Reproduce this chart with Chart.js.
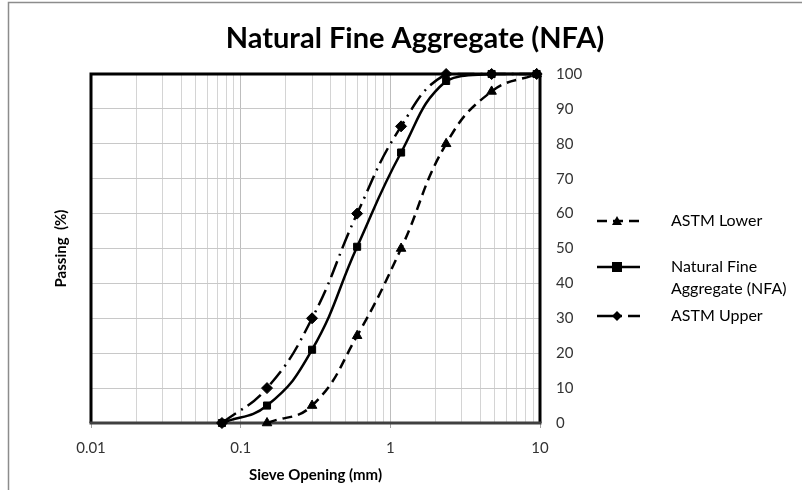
<!DOCTYPE html>
<html>
<head>
<meta charset="utf-8">
<title>Natural Fine Aggregate (NFA)</title>
<script src="https://cdn.jsdelivr.net/npm/chart.js@4.4.1/dist/chart.umd.min.js"></script>
<style>
  body { margin: 0; background: #fff; }
  #chart-container { width: 802px; height: 490px; }
</style>
</head>
<body>
<div id="chart-container">
  <canvas id="grading" width="802" height="490"></canvas>
</div>
<script>
// Sieve openings (mm) and percent passing
const sieveSizes = [0.075, 0.15, 0.3, 0.6, 1.18, 2.36, 4.75, 9.5];
const astmLower = [null, 0, 5, 25, 50, 80, 95, 100];
const nfaPassing = [0, 5, 21, 50.5, 77.5, 98, 100, 100];
const astmUpper = [0, 10, 30, 60, 85, 100, 100, 100];
const decadeLabels = [0.01, 0.1, 1, 10];

const FONT = 'Lato, "Open Sans", sans-serif';
const TITLE = 'Natural Fine Aggregate (NFA)';

function toPoints(values) {
  const pts = [];
  for (let i = 0; i < sieveSizes.length; i++) {
    if (values[i] !== null) pts.push({ x: sieveSizes[i], y: values[i] });
  }
  return pts;
}

function isDecade(value) {
  return decadeLabels.some((d) => Math.abs(value - d) < d * 1e-6);
}

const lineSeries = [
  { label: 'ASTM Lower', data: toPoints(astmLower), dash: [10, 6], point: 'triangle' },
  { label: 'Natural Fine Aggregate (NFA)', data: toPoints(nfaPassing), dash: [], point: 'rect' },
  { label: 'ASTM Upper', data: toPoints(astmUpper), dash: [17, 6, 2, 6], point: 'rectRot' },
];

// frame around the whole picture and the heavy plot border
const framePlugin = {
  id: 'frame',
  beforeDraw(chart) {
    const ctx = chart.ctx;
    ctx.save();
    ctx.fillStyle = '#fff';
    ctx.fillRect(0, 0, chart.width, chart.height);
    ctx.strokeStyle = '#8c8c8c';
    ctx.lineWidth = 1.5;
    ctx.strokeRect(8.5, 2.5, 1000, 1000);
    ctx.restore();
  },
  beforeDatasetsDraw(chart) {
    const { ctx, chartArea: a } = chart;
    ctx.save();
    ctx.lineWidth = 3;
    ctx.strokeStyle = '#000';
    ctx.beginPath();
    ctx.moveTo(a.left, a.bottom);
    ctx.lineTo(a.left, a.top);
    ctx.lineTo(a.right, a.top);
    ctx.lineTo(a.right, a.bottom);
    ctx.stroke();
    ctx.strokeStyle = '#404040';
    ctx.beginPath();
    ctx.moveTo(a.left - 1.5, a.bottom);
    ctx.lineTo(a.right + 1.5, a.bottom);
    ctx.stroke();
    ctx.restore();
  },
};

// chart title plus the y-axis title, which sits on the left while ticks are on the right
const titlesPlugin = {
  id: 'titles',
  afterDraw(chart) {
    const { ctx, chartArea: a } = chart;
    ctx.save();
    ctx.fillStyle = '#000';
    ctx.textAlign = 'center';
    ctx.textBaseline = 'middle';
    ctx.font = 'bold 29px ' + FONT;
    ctx.fillText(TITLE, 415, 39);
    ctx.translate(61, (a.top + a.bottom) / 2);
    ctx.rotate(-Math.PI / 2);
    ctx.font = 'bold 15px ' + FONT;
    ctx.fillText('Passing  (%)', 0, 0);
    ctx.restore();
  },
};

function drawMarker(ctx, style, x, y, r) {
  ctx.beginPath();
  if (style === 'rect') {
    ctx.rect(x - r, y - r, r * 2, r * 2);
  } else if (style === 'rectRot') {
    ctx.moveTo(x, y - r);
    ctx.lineTo(x + r, y);
    ctx.lineTo(x, y + r);
    ctx.lineTo(x - r, y);
    ctx.closePath();
  } else {
    ctx.moveTo(x, y - r);
    ctx.lineTo(x + r, y + r * 0.8);
    ctx.lineTo(x - r, y + r * 0.8);
    ctx.closePath();
  }
  ctx.fill();
}

// legend with line samples, drawn to the right of the axis
const sideLegendPlugin = {
  id: 'sideLegend',
  afterDraw(chart) {
    const ctx = chart.ctx;
    const rows = [
      { ds: 0, y: 221, lines: ['ASTM Lower'] },
      { ds: 1, y: 267, lines: ['Natural Fine', 'Aggregate (NFA)'] },
      { ds: 2, y: 316, lines: ['ASTM Upper'] },
    ];
    ctx.save();
    rows.forEach((row) => {
      const s = lineSeries[row.ds];
      ctx.strokeStyle = '#000';
      ctx.fillStyle = '#000';
      ctx.lineWidth = 2.5;
      ctx.setLineDash(s.dash);
      ctx.beginPath();
      ctx.moveTo(597, row.y);
      ctx.lineTo(640, row.y);
      ctx.stroke();
      ctx.setLineDash([]);
      drawMarker(ctx, s.point, 617, row.y, 5);
      ctx.font = '16px ' + FONT;
      ctx.textAlign = 'left';
      ctx.textBaseline = 'middle';
      row.lines.forEach((t, i) => ctx.fillText(t, 671, row.y + i * 22));
    });
    ctx.restore();
  },
};

const datasets = lineSeries.map((s) => ({
  label: s.label,
  data: s.data,
  borderColor: '#000',
  backgroundColor: '#000',
  borderWidth: 2.5,
  borderDash: s.dash,
  pointStyle: s.point,
  pointRadius: s.point === 'rect' ? 5 : 5.5,
  pointBorderWidth: 1,
  tension: 0.45,
  clip: false,
}));

new Chart(document.getElementById('grading').getContext('2d'), {
  type: 'line',
  data: { datasets: datasets },
  options: {
    responsive: false,
    animation: false,
    layout: { padding: { left: 91, right: 202, top: 74, bottom: 0 } },
    plugins: {
      legend: { display: false },
      tooltip: { enabled: false },
      title: { display: false },
    },
    scales: {
      x: {
        type: 'logarithmic',
        min: 0.01,
        max: 10,
        afterFit(scale) { scale.height = 67; },
        afterBuildTicks(scale) {
          const ticks = [];
          for (let d = 0.01; d < 10; d *= 10) {
            for (let k = 1; k < 10; k++) ticks.push({ value: +(d * k).toPrecision(3) });
          }
          ticks.push({ value: 10 });
          scale.ticks = ticks;
        },
        ticks: {
          autoSkip: false,
          maxRotation: 0,
          padding: 11,
          color: '#333',
          font: { family: FONT, size: 15 },
          callback: (v) => (isDecade(v) ? String(v) : ''),
        },
        grid: {
          color: (c) => (c.tick && isDecade(c.tick.value) ? '#bdbdbd' : '#d4d4d4'),
          tickColor: (c) => (c.tick && isDecade(c.tick.value) ? '#a0a0a0' : 'rgba(0,0,0,0)'),
          tickLength: 5,
        },
        border: { display: false },
        title: {
          display: true,
          text: 'Sieve Opening (mm)',
          color: '#000',
          font: { family: FONT, size: 15, weight: 'bold' },
          padding: { top: 0, bottom: 6 },
        },
      },
      y: {
        position: 'right',
        min: 0,
        max: 100,
        afterFit(scale) { scale.width = 60; },
        ticks: {
          stepSize: 10,
          padding: 16,
          color: '#333',
          font: { family: FONT, size: 15 },
        },
        grid: { color: '#c8c8c8', drawTicks: false },
        border: { display: false },
      },
    },
  },
  plugins: [framePlugin, titlesPlugin, sideLegendPlugin],
});
</script>
</body>
</html>
